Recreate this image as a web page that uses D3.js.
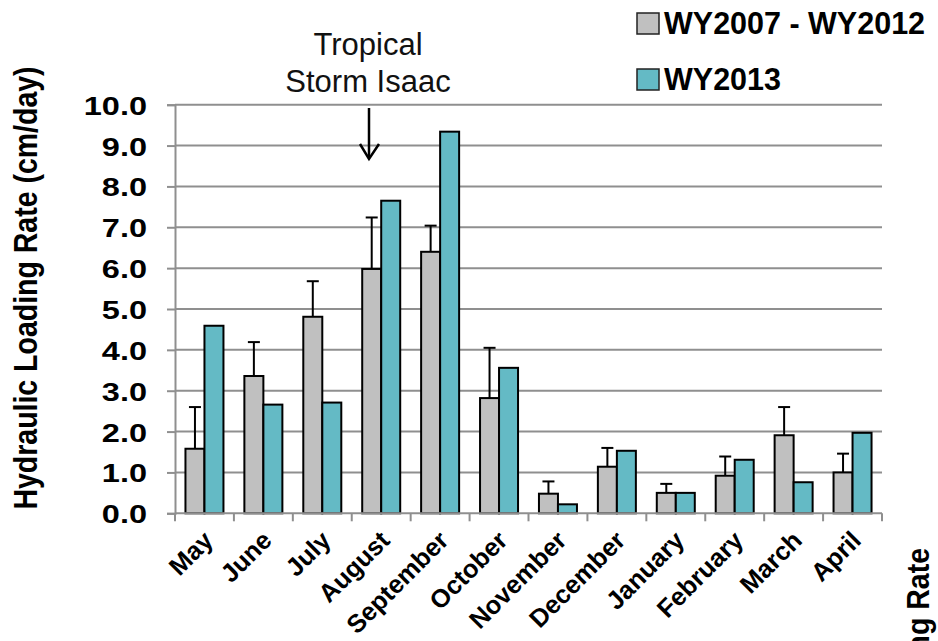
<!DOCTYPE html>
<html>
<head>
<meta charset="utf-8">
<script src="https://cdn.jsdelivr.net/npm/d3@7"></script>
<style>
  html, body { margin: 0; padding: 0; background: #fff; }
  svg { display: block; font-family: "Liberation Sans", Arial, sans-serif; }
</style>
</head>
<body>
<svg id="chart" width="938" height="641"></svg>
<script>
const months = ["May","June","July","August","September","October","November","December","January","February","March","April"];
const seriesNames = ["WY2007 - WY2012", "WY2013"];
const wy0712 = [1.58, 3.36, 4.81, 5.98, 6.40, 2.82, 0.48, 1.14, 0.50, 0.92, 1.91, 1.00];
const wy0712Err = [1.02, 0.83, 0.87, 1.26, 0.64, 1.23, 0.30, 0.46, 0.22, 0.47, 0.69, 0.46];
const wy2013 = [4.59, 2.66, 2.71, 7.65, 9.34, 3.56, 0.22, 1.53, 0.50, 1.31, 0.76, 1.97];
const yTicks = [0,1,2,3,4,5,6,7,8,9,10];
const colors = ["#c0c0c0", "#64bac5"];

const svg = d3.select("#chart");
const plotLeft = 175, plotRight = 882, plotTop = 104.7, plotBottom = 513.3;

const y = d3.scaleLinear().domain([0, 10]).range([plotBottom, plotTop]);
const x0 = d3.scaleBand().domain(months).range([plotLeft, plotRight]).paddingInner(0.355).paddingOuter(0.1775);
const x1 = d3.scaleBand().domain([0, 1]).range([0, x0.bandwidth()]);
const xc = d3.scaleBand().domain(months).range([plotLeft, plotRight]); // category slots

// gridlines
svg.append("g").selectAll("line").data(yTicks.filter(d => d > 0)).join("line")
  .attr("x1", plotLeft).attr("x2", plotRight)
  .attr("y1", d => y(d)).attr("y2", d => y(d))
  .attr("stroke", "#8f8f8f").attr("stroke-width", 2);

// y axis
const yAxis = svg.append("g").attr("transform", `translate(${plotLeft},0)`)
  .call(d3.axisLeft(y).tickValues(yTicks).tickSize(8).tickFormat(d => d.toFixed(1)));
yAxis.select(".domain").attr("stroke", "#8f8f8f").attr("stroke-width", 2);
yAxis.selectAll(".tick line").attr("stroke", "#8f8f8f").attr("stroke-width", 2);
yAxis.selectAll(".tick text").remove();
yAxis.selectAll(".tick").append("g")
  .attr("transform", "translate(-28,9.5) scale(1.25,1)")
  .append("text")
  .attr("text-anchor", "end")
  .attr("font-size", 26).attr("font-weight", "bold").attr("fill", "#000")
  .text(d => d.toFixed(1));

// bars
const data = months.map((m, i) => ({ m, vals: [wy0712[i], wy2013[i]], err: wy0712Err[i] }));
const groups = svg.append("g").selectAll("g").data(data).join("g")
  .attr("transform", d => `translate(${x0(d.m)},0)`);
groups.selectAll("rect").data(d => d.vals.map((v, k) => ({ v, k }))).join("rect")
  .attr("x", d => x1(d.k)).attr("width", x1.bandwidth())
  .attr("y", d => y(d.v)).attr("height", d => y(0) - y(d.v))
  .attr("fill", d => colors[d.k]).attr("stroke", "#000").attr("stroke-width", 2);

// error bars (upper only)
groups.append("line")
  .attr("x1", x1(0) + x1.bandwidth() / 2).attr("x2", x1(0) + x1.bandwidth() / 2)
  .attr("y1", d => y(d.vals[0])).attr("y2", d => y(d.vals[0] + d.err))
  .attr("stroke", "#000").attr("stroke-width", 2);
groups.append("line")
  .attr("x1", x1(0) + x1.bandwidth() / 2 - 6).attr("x2", x1(0) + x1.bandwidth() / 2 + 6)
  .attr("y1", d => y(d.vals[0] + d.err)).attr("y2", d => y(d.vals[0] + d.err))
  .attr("stroke", "#000").attr("stroke-width", 2);

// x axis
svg.append("line").attr("x1", plotLeft).attr("x2", plotRight).attr("y1", plotBottom).attr("y2", plotBottom)
  .attr("stroke", "#8f8f8f").attr("stroke-width", 2);
const bounds = months.map(m => xc(m)).concat([plotRight]);
svg.append("g").selectAll("line").data(bounds).join("line")
  .attr("x1", d => d).attr("x2", d => d).attr("y1", plotBottom).attr("y2", plotBottom + 8)
  .attr("stroke", "#8f8f8f").attr("stroke-width", 2);

// month labels
svg.append("g").selectAll("text").data(months).join("text")
  .attr("transform", m => `translate(${xc(m) + xc.bandwidth() / 2 + 10},542) rotate(-45)`)
  .attr("text-anchor", "end")
  .attr("font-size", 25.5).attr("font-weight", "bold").attr("fill", "#000")
  .text(m => m);

// y axis title
svg.append("text")
  .attr("transform", "translate(37,288) rotate(-90) scale(1,1.18)")
  .attr("text-anchor", "middle")
  .attr("font-size", 28.5).attr("font-weight", "bold").attr("fill", "#000")
  .text("Hydraulic Loading Rate (cm/day)");

// cut-off secondary title at right edge
svg.append("text")
  .attr("transform", "translate(929,548) rotate(-90) scale(1,1.12)")
  .attr("text-anchor", "end")
  .attr("font-size", 28.5).attr("font-weight", "bold").attr("fill", "#000")
  .text("Hydraulic Loading Rate");

// legend
const legend = svg.append("g").selectAll("g").data(seriesNames).join("g")
  .attr("transform", (d, i) => `translate(637,${13 + i * 56})`);
legend.append("rect").attr("width", 22).attr("height", 21)
  .attr("fill", (d, i) => colors[i]).attr("stroke", "#222").attr("stroke-width", 1.5);
legend.append("text").attr("x", 27).attr("y", 21)
  .attr("font-size", 30.5).attr("font-weight", "bold").attr("fill", "#000")
  .text(d => d);

// annotation
const ann = svg.append("g");
ann.append("text").attr("x", 368).attr("y", 55).attr("text-anchor", "middle")
  .attr("font-size", 31).attr("fill", "#111").text("Tropical");
ann.append("text").attr("x", 368).attr("y", 92).attr("text-anchor", "middle")
  .attr("font-size", 31).attr("fill", "#111").text("Storm Isaac");
ann.append("line").attr("x1", 369).attr("x2", 369).attr("y1", 108).attr("y2", 158)
  .attr("stroke", "#000").attr("stroke-width", 2.5);
ann.append("path").attr("d", "M360,144 L369,159 L379,144")
  .attr("fill", "none").attr("stroke", "#000").attr("stroke-width", 2.5);
</script>
</body>
</html>
